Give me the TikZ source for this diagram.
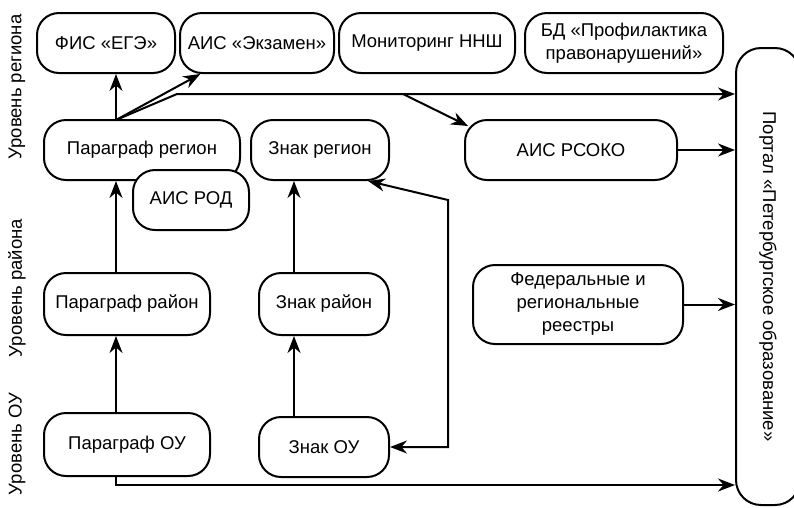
\documentclass[tikz,border=0pt]{standalone}
\usepackage{fontspec}
\setmainfont{Liberation Sans}
\usetikzlibrary{arrows.meta}

\begin{document}
\begin{tikzpicture}[x=1pt,y=1pt,line width=2pt]
\tikzstyle{every node}+=[font=\fontsize{18.5}{23}\selectfont]
\tikzstyle{block}=[draw,rounded corners=22pt,fill=white,align=center,inner sep=0pt,minimum height=60pt]
\tikzstyle{arr}=[-{Stealth[length=17pt,width=13pt]}]
\tikzstyle{levellabel}=[rotate=90]
\useasboundingbox (0,0) rectangle (794,-507);
% levels
\node[levellabel] (lreg) at (17,-87) {Уровень региона};
\node[levellabel] (lrai) at (17,-288) {Уровень района};
\node[levellabel] (lou) at (17,-444) {Уровень ОУ};
% top row
\node[block,minimum width=138pt] (fis) at (106,-43) {ФИС «ЕГЭ»};
\node[block,minimum width=154pt] (ekz) at (257,-43) {АИС «Экзамен»};
\node[block,minimum width=176pt] (mon) at (427,-43) {Мониторинг ННШ};
\node[block,minimum width=198pt] (bd) at (624,-43) {БД «Профилактика\\правонарушений»};
% region
\node[block,minimum width=196pt] (preg) at (142,-150) {Параграф регион};
\node[block,minimum width=138pt] (zreg) at (320,-150) {Знак регион};
\node[block,minimum width=116pt] (rod) at (191,-200) {АИС РОД};
\node[block,minimum width=212pt] (rsoko) at (571,-150) {АИС РСОКО};
% district
\node[block,minimum width=166pt,minimum height=62pt] (prai) at (127,-304) {Параграф район};
\node[block,minimum width=130pt,minimum height=62pt] (zrai) at (324,-304) {Знак район};
\node[block,minimum width=210pt,minimum height=79pt] (fed) at (578,-304.5) {Федеральные и\\региональные\\реестры};
% school
\node[block,minimum width=166pt,minimum height=63pt] (pou) at (127,-444.5) {Параграф ОУ};
\node[block,minimum width=130pt] (zou) at (324,-447) {Знак ОУ};
% portal
\node[block,minimum width=64pt,minimum height=457pt,rounded corners=25pt] (portal) at (768,-276.5) {\rotatebox{-90}{Портал «Петербургское образование»}};
% helper points
\coordinate (pcol) at (116,0);
\coordinate (zcol) at (294,0);
\coordinate (pregtop) at (116,-120);
\coordinate (bend) at (177,-94);
\coordinate (split) at (403,-94);
\coordinate (low) at (116,-485);
\coordinate (back) at (448,-200);
% connectors
\draw[arr] (pregtop) -- (pregtop |- fis.south);
\draw[arr] (pregtop) -- (ekz);
\draw[arr] (pregtop) -- (bend) -- (bend -| portal.west);
\draw[arr] (split) -- ([xshift=4pt,yshift=-7pt]rsoko.north west);
\draw[arr] (rsoko.east) -- (rsoko.east -| portal.west);
\draw[arr] (fed.east) -- (fed.east -| portal.west);
\draw[arr] (pou.north -| pcol) -- (prai.south -| pcol);
\draw[arr] (prai.north -| pcol) -- (preg.south -| pcol);
\draw[arr] (zou.north -| zcol) -- (zrai.south -| zcol);
\draw[arr] (zrai.north -| zcol) -- (zreg.south -| zcol);
\draw[arr] (pou.south -| pcol) -- (low) -- (low -| portal.west);
\draw[{Stealth[length=17pt,width=13pt]}-{Stealth[length=17pt,width=13pt]}] ([xshift=-22pt]zreg.south east) -- (back) -- (back |- zou.east) -- (zou.east);
\end{tikzpicture}
\end{document}
